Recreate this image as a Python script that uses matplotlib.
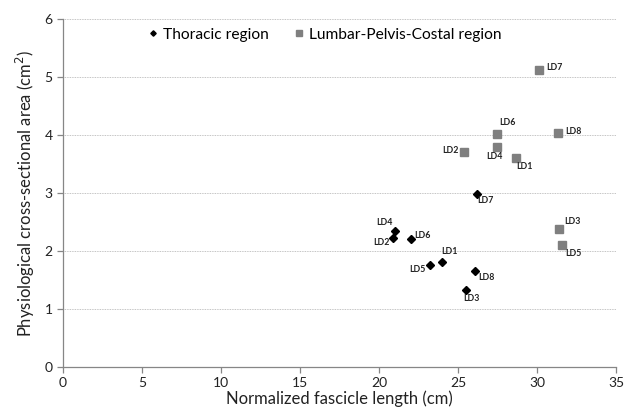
import numpy as np
import matplotlib
matplotlib.use("Agg")
import matplotlib.pyplot as plt

plt.rcParams['font.family'] = ['Lato', 'DejaVu Sans']

# thoracic region (black diamonds)
thor_names = ['LD1', 'LD2', 'LD3', 'LD4', 'LD5', 'LD6', 'LD7', 'LD8']
thor_x = [24.0, 20.9, 25.5, 21.0, 23.2, 22.0, 26.2, 26.1]
thor_y = [1.81, 2.22, 1.33, 2.34, 1.75, 2.20, 2.99, 1.66]

# lumbar-pelvis-costal region (grey squares)
lpc_names = ['LD1', 'LD2', 'LD3', 'LD4', 'LD5', 'LD6', 'LD7', 'LD8']
lpc_x = [28.7, 25.4, 31.4, 27.5, 31.6, 27.5, 30.1, 31.3]
lpc_y = [3.61, 3.71, 2.38, 3.79, 2.11, 4.02, 5.12, 4.03]

# label offsets in pixels (dx, dy)
thor_off = {'LD1': (7, 11), 'LD2': (-12, -4), 'LD3': (6, -9), 'LD4': (-10, 9),
            'LD5': (-12, -4), 'LD6': (12, 4), 'LD7': (8, -7), 'LD8': (11, -7)}
lpc_off = {'LD1': (8, -9), 'LD2': (-14, 1), 'LD3': (13, 7), 'LD4': (-3, -9),
           'LD5': (11, -9), 'LD6': (10, 11), 'LD7': (16, 3), 'LD8': (16, 2)}

fig = plt.figure(figsize=(6.26, 4.12), dpi=100)
ax = fig.add_axes([0.1006, 0.1092, 0.8834, 0.8448])

ax.plot(thor_x, thor_y, 'D', color='black', markersize=4.2, linestyle='none',
        label='Thoracic region', zorder=3)
ax.plot(lpc_x, lpc_y, 's', color='#7f7f7f', markersize=6, linestyle='none',
        label='Lumbar-Pelvis-Costal region', zorder=3)

for n, x, y in zip(thor_names, thor_x, thor_y):
    ax.annotate(n, (x, y), xytext=thor_off[n], textcoords='offset pixels',
                ha='center', va='center', fontsize=6.3, fontweight='bold', color='#222222')
for n, x, y in zip(lpc_names, lpc_x, lpc_y):
    ax.annotate(n, (x, y), xytext=lpc_off[n], textcoords='offset pixels',
                ha='center', va='center', fontsize=6.3, fontweight='bold', color='#222222')

ax.set_xlim(0, 35)
ax.set_ylim(0, 6)
ax.set_xticks(np.arange(0, 36, 5))
ax.set_yticks(np.arange(0, 7, 1))
ax.yaxis.grid(True, linestyle=(0, (1, 1)), color='#b0b0b0', linewidth=0.6)
ax.set_axisbelow(True)

for s in ['top', 'right']:
    ax.spines[s].set_visible(False)
for s in ['left', 'bottom']:
    ax.spines[s].set_color('#868686')
    ax.spines[s].set_linewidth(0.9)
ax.tick_params(direction='out', length=4, width=0.9, color='#868686',
               labelsize=10, labelcolor='#222222')

ax.set_xlabel('Normalized fascicle length (cm)', fontsize=12, color='#222222', labelpad=1)
ax.set_ylabel('Physiological cross-sectional area (cm$^2$)', fontsize=12,
              color='#222222', labelpad=5)

ax.legend(loc='upper left', bbox_to_anchor=(0.13, 1.015), ncol=2, frameon=False,
          fontsize=11.2, handlelength=0.5, handletextpad=0.4, columnspacing=1.7,
          markerscale=0.65)

fig.savefig('out.png', dpi=100)
